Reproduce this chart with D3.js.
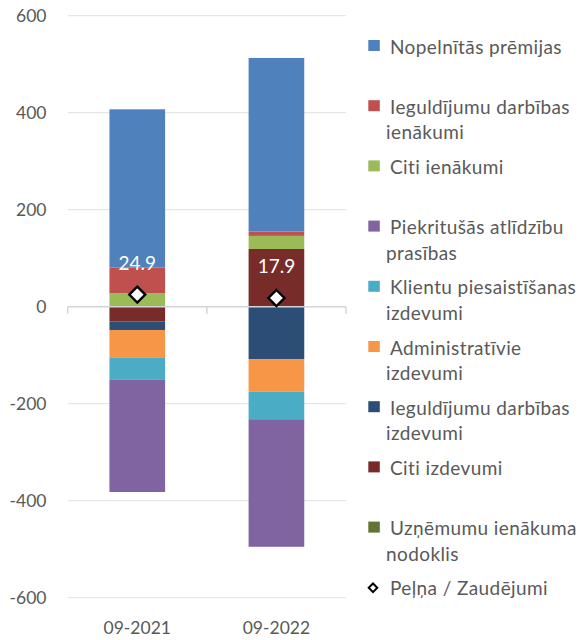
<!DOCTYPE html>
<html>
<head>
<meta charset="utf-8">
<script src="https://cdn.jsdelivr.net/npm/d3@7"></script>
<style>
  html, body { margin: 0; padding: 0; background: #fff; }
  svg { display: block; }
  text { font-family: Lato, "Open Sans", sans-serif; }
</style>
</head>
<body>
<svg id="chart" width="584" height="640"></svg>
<script>
// ---- data ----
const categories = ["09-2021", "09-2022"];
const nopelnitasPremijas = [326.5, 357.9];
const ieguldijumuIenakumi = [52.5, 9];
const citiIenakumi = [28, 27];
const piekritusasPrasibas = [-232.1, -263];
const klientuIzdevumi = [-45.5, -57];
const administrativieIzdevumi = [-56.5, -67];
const ieguldijumuIzdevumi = [-17.5, -108];
const citiIzdevumi = [-30.5, 119];
const uznemumuNodoklis = [0, 0];
const pelnaZaudejumi = [24.9, 17.9];
const yTicks = [-600, -400, -200, 0, 200, 400, 600];

const legendItems = [
  { key: "nop", lines: ["Nopelnītās prēmijas"], color: "#4f81bd", values: nopelnitasPremijas },
  { key: "iegIen", lines: ["Ieguldījumu darbības", "ienākumi"], color: "#c0504d", values: ieguldijumuIenakumi },
  { key: "citiIen", lines: ["Citi ienākumi"], color: "#9bbb59", values: citiIenakumi },
  { key: "piek", lines: ["Piekritušās atlīdzību", "prasības"], color: "#8064a2", values: piekritusasPrasibas },
  { key: "klient", lines: ["Klientu piesaistīšanas", "izdevumi"], color: "#4bacc6", values: klientuIzdevumi },
  { key: "admin", lines: ["Administratīvie", "izdevumi"], color: "#f79646", values: administrativieIzdevumi },
  { key: "iegIzd", lines: ["Ieguldījumu darbības", "izdevumi"], color: "#2c4d75", values: ieguldijumuIzdevumi },
  { key: "citiIzd", lines: ["Citi izdevumi"], color: "#772c2a", values: citiIzdevumi },
  { key: "nod", lines: ["Uzņēmumu ienākuma", "nodoklis"], color: "#5f7530", values: uznemumuNodoklis },
  { key: "pelna", lines: ["Peļņa / Zaudējumi"], color: null, values: pelnaZaudejumi }
];

// ---- layout ----
const svg = d3.select("#chart");
const plotLeft = 67.7, plotRight = 346, plotTop = 15.7, plotBottom = 597.7;

const x = d3.scaleBand().domain(categories).range([plotLeft, plotRight])
  .paddingInner(0.6).paddingOuter(0.3);
const y = d3.scaleLinear().domain([-600, 600]).range([plotBottom, plotTop]);

// gridlines
svg.append("g").selectAll("line").data(yTicks.filter(t => t !== 0)).join("line")
  .attr("x1", plotLeft).attr("x2", plotRight)
  .attr("y1", d => y(d)).attr("y2", d => y(d))
  .attr("stroke", "#e6e6e6").attr("stroke-width", 1.3);

// y tick labels
svg.append("g").selectAll("text").data(yTicks).join("text")
  .attr("x", 46.5).attr("y", d => y(d) + 6.3)
  .attr("text-anchor", "end")
  .attr("font-size", 17.5).attr("fill", "#595959")
  .text(d => d);

// stacked bars
const stackKeys = ["nod", "citiIzd", "iegIzd", "admin", "klient", "piek", "citiIen", "iegIen", "nop"];
const byKey = Object.fromEntries(legendItems.map(d => [d.key, d]));
const rows = categories.map((c, i) => {
  const r = { cat: c };
  stackKeys.forEach(k => r[k] = byKey[k].values[i]);
  return r;
});
const series = d3.stack().keys(stackKeys).offset(d3.stackOffsetDiverging)(rows);

svg.append("g").selectAll("g").data(series).join("g")
  .attr("fill", s => byKey[s.key].color)
  .selectAll("rect").data(s => s).join("rect")
  .attr("x", d => x(d.data.cat))
  .attr("width", x.bandwidth())
  .attr("y", d => y(Math.max(d[0], d[1])))
  .attr("height", d => Math.abs(y(d[0]) - y(d[1])));

// zero axis line + ticks
const ax = svg.append("g").attr("stroke", "#d4d4d4").attr("stroke-width", 1.5);
ax.append("line").attr("x1", plotLeft).attr("x2", plotRight).attr("y1", y(0)).attr("y2", y(0));
const boundaries = [plotLeft, ...categories.slice(1).map(c => x(c) - x.step() * x.paddingInner() / 2), plotRight];
ax.selectAll("line.tick").data(boundaries).join("line").attr("class", "tick")
  .attr("x1", d => d).attr("x2", d => d).attr("y1", y(0)).attr("y2", y(0) + 7);

// x labels
svg.append("g").selectAll("text").data(categories).join("text")
  .attr("x", d => x(d) + x.bandwidth() / 2).attr("y", 634)
  .attr("text-anchor", "middle").attr("font-size", 17.5).attr("fill", "#595959")
  .text(d => d);

// profit markers
const diamond = (cx, cy, r) => `M${cx},${cy - r}L${cx + r},${cy}L${cx},${cy + r}L${cx - r},${cy}Z`;
svg.append("g").selectAll("path").data(categories).join("path")
  .attr("d", (c, i) => diamond(x(c) + x.bandwidth() / 2, y(pelnaZaudejumi[i]), 8))
  .attr("fill", "#fff").attr("stroke", "#000").attr("stroke-width", 2.4);

// data labels
svg.append("g").selectAll("text").data(categories).join("text")
  .attr("x", c => x(c) + x.bandwidth() / 2)
  .attr("y", (c, i) => y(pelnaZaudejumi[i]) - 25)
  .attr("text-anchor", "middle").attr("font-size", 19).attr("fill", "#fff")
  .text((c, i) => d3.format(".1f")(pelnaZaudejumi[i]));

// legend
const lg = svg.append("g");
legendItems.forEach((item, i) => {
  const top = 40 + i * 60.2;
  const g = lg.append("g");
  if (item.color) {
    g.append("rect").attr("x", 368.3).attr("y", top).attr("width", 11.5).attr("height", 11)
      .attr("fill", item.color);
  } else {
    g.append("path").attr("d", diamond(373, top + 6, 4.3))
      .attr("fill", "#fff").attr("stroke", "#000").attr("stroke-width", 2);
  }
  item.lines.forEach((ln, j) => {
    g.append("text").attr("x", j === 0 ? 390 : 386).attr("y", top + 13.5 + j * 25.5)
      .attr("font-size", 19).attr("fill", "#595959").attr("letter-spacing", 0.4)
      .text(ln);
  });
});
</script>
</body>
</html>
